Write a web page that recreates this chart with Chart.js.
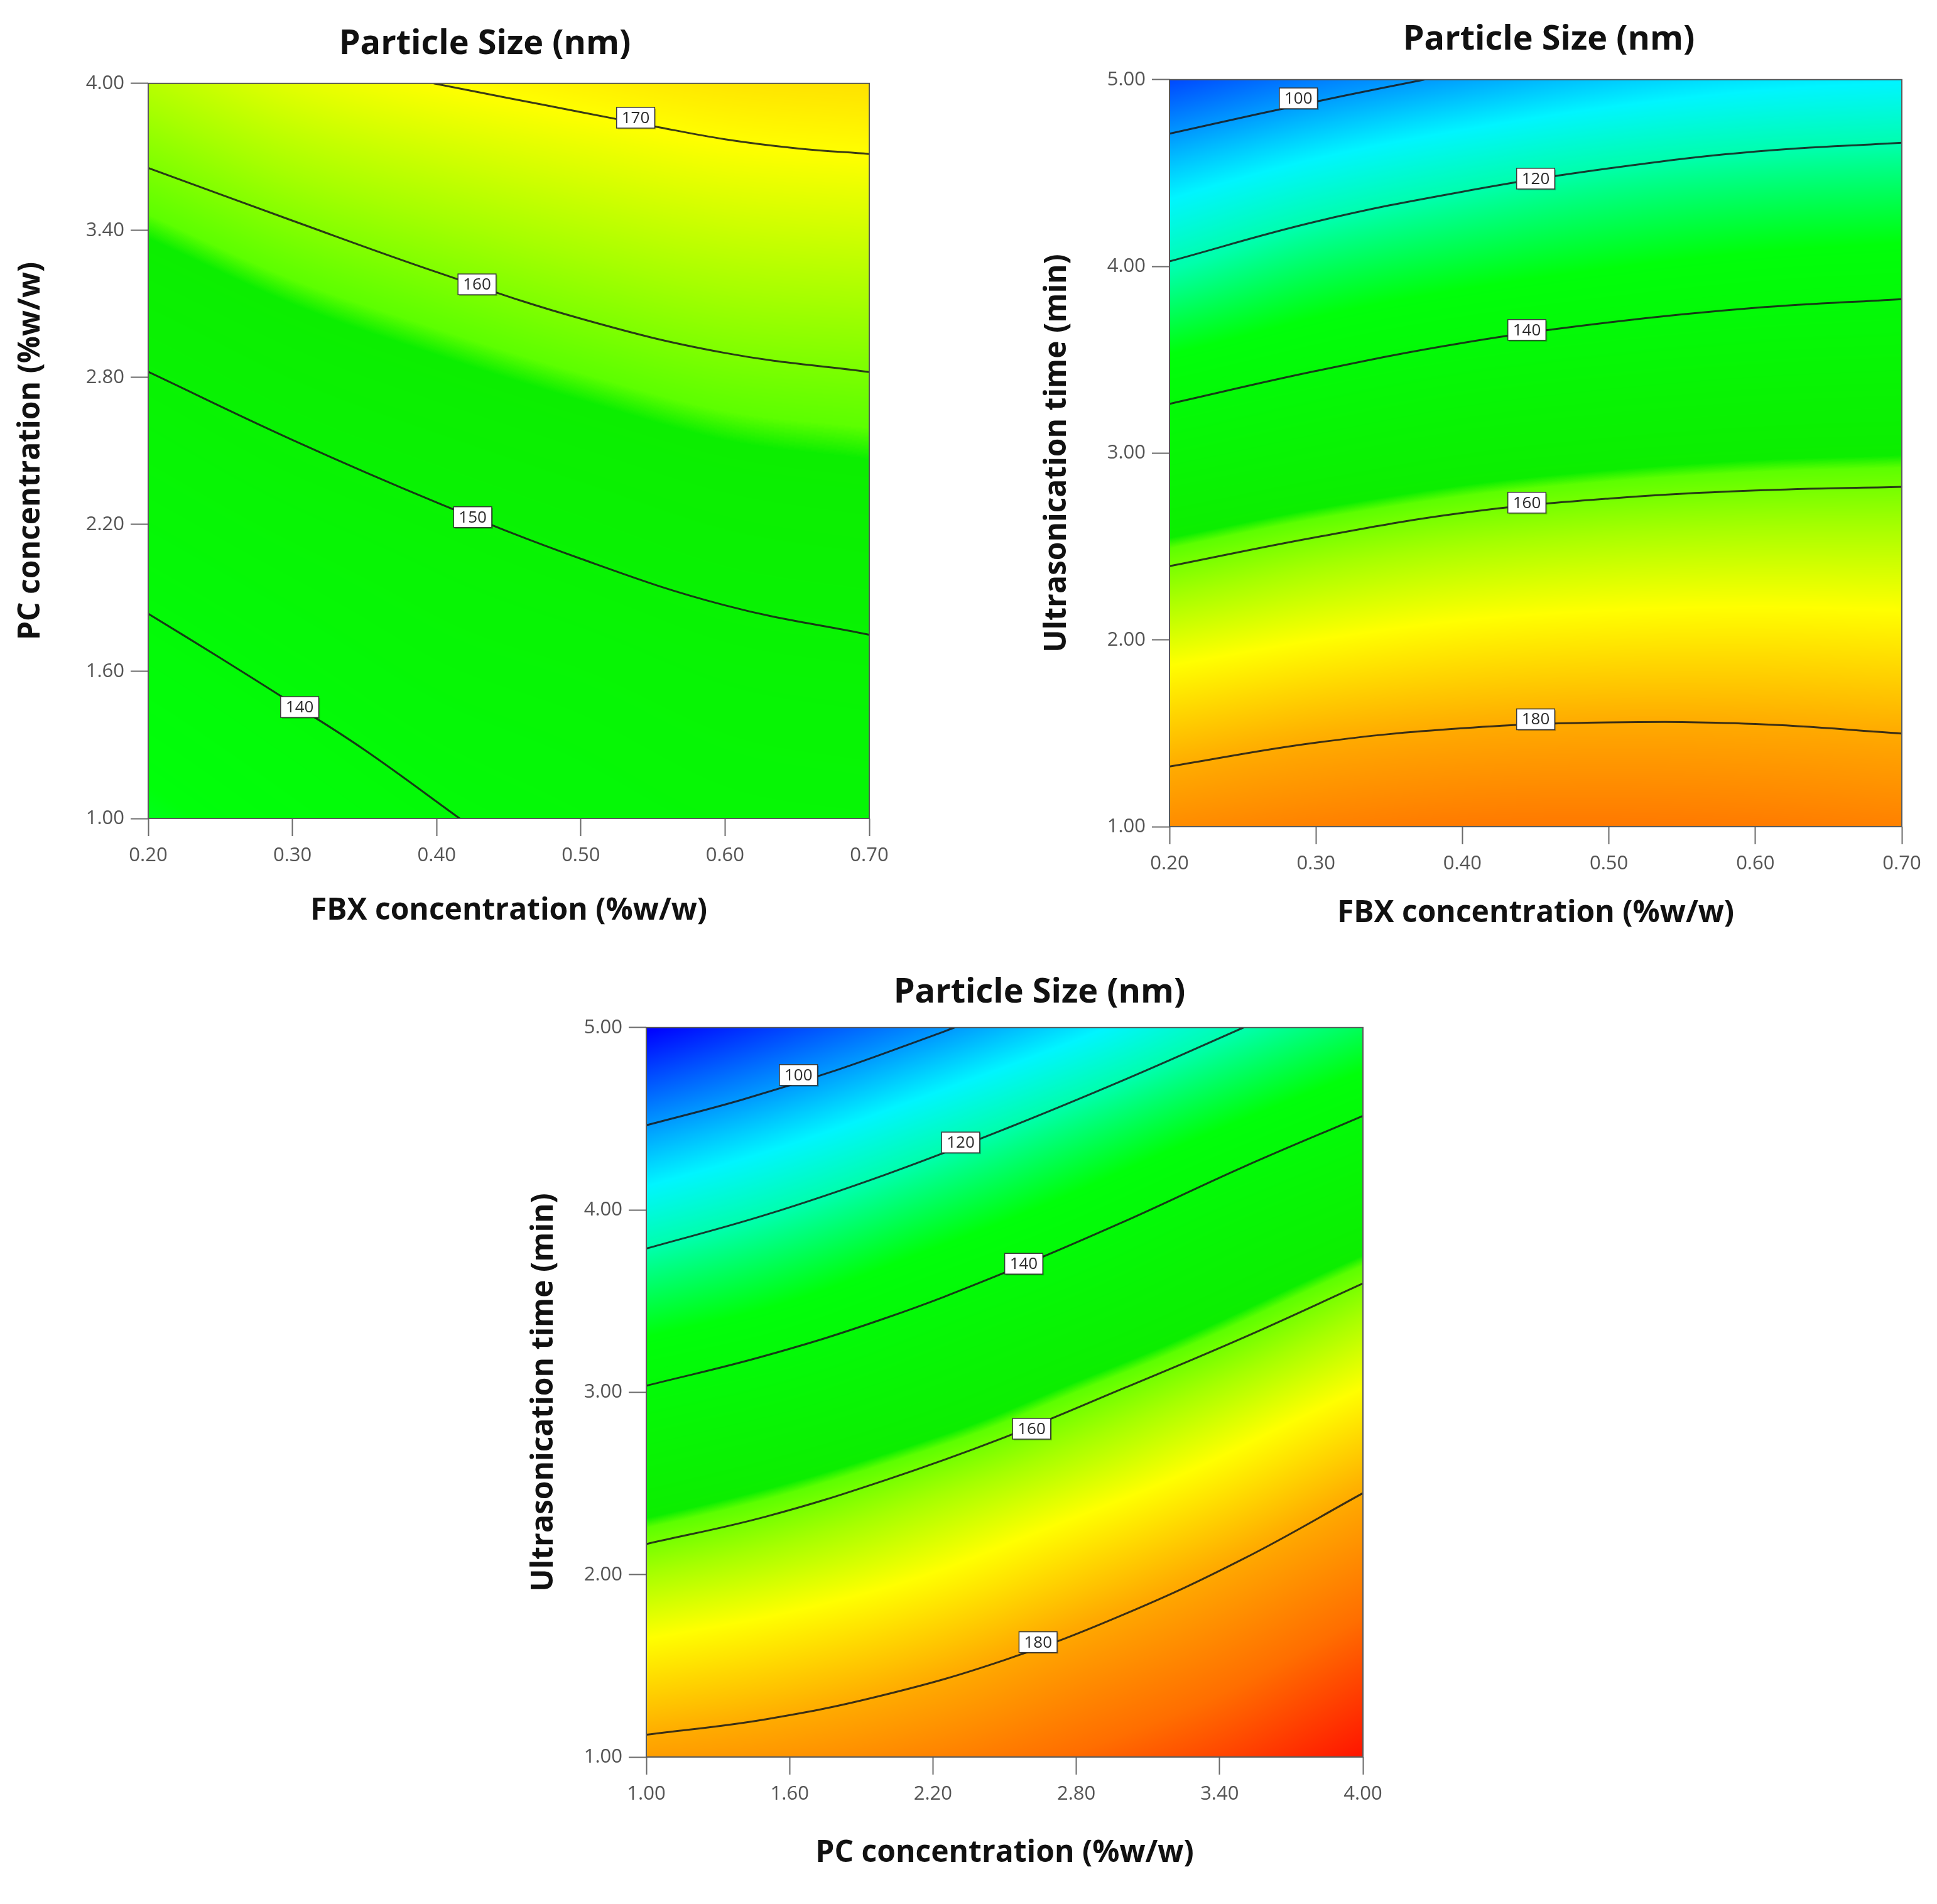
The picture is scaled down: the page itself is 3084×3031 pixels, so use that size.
<!DOCTYPE html>
<html>
<head>
<meta charset="utf-8">
<title>Particle Size contour plots</title>
<script src="https://cdn.jsdelivr.net/npm/chart.js@4.4.1/dist/chart.umd.min.js"></script>
<style>
    html, body { margin: 0; padding: 0; background: #ffffff; overflow: hidden; }
    body { width: 3084px; height: 3031px; position: relative; }
    canvas { position: absolute; }
</style>
</head>
<body>
<canvas id="fbx-pc-chart" width="1544" height="1500" style="left:0px; top:0px;"></canvas>
<canvas id="fbx-time-chart" width="1484" height="1520" style="left:1600px; top:0px;"></canvas>
<canvas id="pc-time-chart" width="1400" height="1531" style="left:820px; top:1500px;"></canvas>
<script>
// AXIS TICKS //

const fbxTicks = [0.20, 0.30, 0.40, 0.50, 0.60, 0.70];
const pcTicks = [1.00, 1.60, 2.20, 2.80, 3.40, 4.00];
const timeTicks = [1.00, 2.00, 3.00, 4.00, 5.00];
const timeRows = [1.0, 1.5, 2.0, 2.5, 3.0, 3.5, 4.0, 4.5, 5.0];

// PARTICLE SIZE (nm), ROWS FROM LOW Y TO HIGH Y //

// columns = fbxTicks, rows = pcTicks
const sizeFbxPc = [
    [131.6, 135.7, 139.4, 141.8, 143.9, 144.6],
    [137.6, 141.2, 144.4, 146.1, 148.0, 148.8],
    [143.7, 146.9, 149.3, 151.4, 153.3, 154.2],
    [149.8, 153.2, 155.6, 157.6, 159.2, 159.8],
    [157.0, 160.2, 162.4, 164.3, 165.8, 166.5],
    [164.4, 167.9, 170.0, 171.5, 172.9, 173.5]
];

// columns = fbxTicks, rows = timeRows
const sizeFbxTime = [
    [185.0, 186.9, 188.1, 188.3, 187.9, 186.9],
    [176.7, 179.1, 180.4, 180.9, 180.7, 180.0],
    [167.4, 170.0, 171.8, 172.6, 172.8, 172.4],
    [157.6, 160.9, 163.1, 164.3, 164.8, 164.8],
    [146.1, 149.9, 153.0, 154.8, 155.9, 156.4],
    [133.8, 138.5, 142.0, 144.2, 145.7, 146.5],
    [119.3, 126.0, 129.9, 132.7, 134.7, 135.8],
    [106.2, 112.2, 116.9, 120.6, 122.7, 123.9],
    [91.2, 97.2, 101.5, 105.4, 108.2, 109.6]
];

// columns = pcTicks, rows = timeRows
const sizePcTime = [
    [182.0, 183.7, 186.5, 190.4, 194.5, 200.0],
    [172.8, 175.2, 178.6, 183.4, 187.9, 193.6],
    [163.2, 166.3, 170.2, 175.4, 180.7, 186.7],
    [152.4, 156.7, 161.7, 166.8, 172.4, 179.1],
    [140.8, 145.2, 151.1, 157.8, 164.0, 170.4],
    [127.7, 132.9, 140.0, 146.9, 154.4, 161.7],
    [113.7, 119.9, 127.5, 135.4, 143.8, 151.2],
    [99.0, 105.9, 114.0, 122.7, 131.5, 139.6],
    [82.7, 90.9, 99.1, 107.9, 118.0, 126.8]
];

// CONTOUR LINES [x, y] //

const fbxPc140 = [[0.20, 1.836], [0.25, 1.655], [0.30, 1.47], [0.35, 1.28], [0.416, 1.00]];
const fbxPc150 = [[0.20, 2.823], [0.30, 2.545], [0.40, 2.29], [0.50, 2.06], [0.60, 1.87], [0.70, 1.75]];
const fbxPc160 = [[0.20, 3.655], [0.30, 3.44], [0.40, 3.23], [0.50, 3.04], [0.60, 2.90], [0.70, 2.822]];
const fbxPc170 = [[0.398, 4.00], [0.45, 3.94], [0.50, 3.883], [0.55, 3.826], [0.60, 3.772], [0.65, 3.735], [0.70, 3.712]];

const fbxTime100 = [[0.20, 4.711], [0.26, 4.815], [0.32, 4.915], [0.374, 5.00]];
const fbxTime120 = [[0.20, 4.027], [0.30, 4.24], [0.40, 4.40], [0.50, 4.525], [0.60, 4.615], [0.70, 4.662]];
const fbxTime140 = [[0.20, 3.264], [0.30, 3.44], [0.40, 3.59], [0.50, 3.70], [0.60, 3.778], [0.70, 3.825]];
const fbxTime160 = [[0.20, 2.395], [0.30, 2.55], [0.40, 2.68], [0.50, 2.757], [0.60, 2.80], [0.70, 2.82]];
const fbxTime180 = [[0.20, 1.322], [0.30, 1.45], [0.40, 1.527], [0.50, 1.558], [0.60, 1.55], [0.70, 1.499]];

const pcTime100 = [[1.00, 4.464], [1.40, 4.604], [1.80, 4.768], [2.20, 4.956], [2.29, 5.00]];
const pcTime120 = [[1.00, 3.788], [1.50, 3.973], [2.00, 4.193], [2.50, 4.443], [3.00, 4.713], [3.50, 5.00]];
const pcTime140 = [[1.00, 3.036], [1.50, 3.201], [2.00, 3.406], [2.50, 3.656], [3.00, 3.936], [3.50, 4.236], [4.00, 4.516]];
const pcTime160 = [[1.00, 2.168], [1.50, 2.318], [2.00, 2.518], [2.50, 2.753], [3.00, 3.023], [3.50, 3.30], [4.00, 3.597]];
const pcTime180 = [[1.00, 1.122], [1.50, 1.207], [2.00, 1.342], [2.50, 1.532], [3.00, 1.782], [3.50, 2.087], [4.00, 2.447]];

// CONTOUR LABELS [x, y, text] //

const fbxPcLabels = [[0.538, 3.86, '170'], [0.428, 3.18, '160'], [0.425, 2.23, '150'], [0.305, 1.455, '140']];
const fbxTimeLabels = [[0.288, 4.90, '100'], [0.45, 4.47, '120'], [0.444, 3.66, '140'], [0.444, 2.735, '160'], [0.45, 1.575, '180']];
const pcTimeLabels = [[1.637, 4.74, '100'], [2.316, 4.37, '120'], [2.58, 3.705, '140'], [2.613, 2.80, '160'], [2.64, 1.63, '180']];

// COLOUR SCALE //

const sizeColours = [
    [83, 0, 0, 255],
    [100, 0, 150, 255],
    [110, 0, 245, 255],
    [120, 0, 255, 170],
    [133, 0, 255, 10],
    [156.6, 12, 238, 0],
    [157.8, 92, 255, 0],
    [163, 165, 255, 0],
    [170, 255, 255, 0],
    [180, 255, 170, 0],
    [190, 255, 110, 0],
    [200, 255, 20, 0]
];

const lutMin = 60, lutStep = 0.05, lutSize = 3400;
const colourLut = new Uint8ClampedArray(lutSize * 3);

for (let i = 0; i < lutSize; i++) {
    const v = lutMin + i * lutStep;
    let k = 0;
    while (k < sizeColours.length - 2 && v > sizeColours[k + 1][0]) k++;
    const a = sizeColours[k], b = sizeColours[k + 1];
    let t = (v - a[0]) / (b[0] - a[0]);
    t = Math.max(0, Math.min(1, t));
    colourLut[i * 3] = a[1] + (b[1] - a[1]) * t;
    colourLut[i * 3 + 1] = a[2] + (b[2] - a[2]) * t;
    colourLut[i * 3 + 2] = a[3] + (b[3] - a[3]) * t;
}

// continuous grid index for a value on an evenly spaced axis
function gridIndex(arr, v) {
    const s = (v - arr[0]) / (arr[1] - arr[0]);
    return Math.max(0, Math.min(arr.length - 1, s));
}

// Catmull-Rom blend of a row of grid values at a continuous index
function smoothAt(row, s) {
    const n = row.length;
    let k = Math.floor(s);
    if (k >= n - 1) k = n - 2;
    const t = s - k;
    const p1 = row[k], p2 = row[k + 1];
    const p0 = k > 0 ? row[k - 1] : 2 * p1 - p2;
    const p3 = k + 2 < n ? row[k + 2] : 2 * p2 - p1;
    return 0.5 * (2 * p1 + (p2 - p0) * t + (2 * p0 - 5 * p1 + 4 * p2 - p3) * t * t + (3 * p1 - p0 - 3 * p2 + p3) * t * t * t);
}

// SURFACE PLUGIN: shades the plot area from the grid through the scales //

function surfacePlugin(grid, xs, ys) {
    return {
        id: 'surface',
        beforeDatasetsDraw(chart) {
            const {ctx, chartArea, scales} = chart;
            const left = Math.round(chartArea.left);
            const top = Math.round(chartArea.top);
            const w = Math.round(chartArea.right) - left;
            const h = Math.round(chartArea.bottom) - top;
            const img = ctx.createImageData(w, h);

            // blend each grid row across the pixel columns first
            const rows = grid.map(row => {
                const out = new Float32Array(w);
                for (let i = 0; i < w; i++) {
                    out[i] = smoothAt(row, gridIndex(xs, scales.x.getValueForPixel(left + i + 0.5)));
                }
                return out;
            });

            const column = new Array(rows.length);
            for (let j = 0; j < h; j++) {
                const s = gridIndex(ys, scales.y.getValueForPixel(top + j + 0.5));
                for (let i = 0; i < w; i++) {
                    for (let r = 0; r < rows.length; r++) column[r] = rows[r][i];
                    const v = smoothAt(column, s);
                    let idx = Math.round((v - lutMin) / lutStep);
                    idx = Math.max(0, Math.min(lutSize - 1, idx));
                    const p = (j * w + i) * 4;
                    img.data[p] = colourLut[idx * 3];
                    img.data[p + 1] = colourLut[idx * 3 + 1];
                    img.data[p + 2] = colourLut[idx * 3 + 2];
                    img.data[p + 3] = 255;
                }
            }
            ctx.putImageData(img, left, top);
        },
        afterDatasetsDraw(chart) {
            const {ctx, chartArea} = chart;
            ctx.save();
            ctx.strokeStyle = '#5a5a5a';
            ctx.lineWidth = 2;
            ctx.strokeRect(chartArea.left, chartArea.top, chartArea.right - chartArea.left, chartArea.bottom - chartArea.top);
            ctx.restore();
        }
    };
}

// CONTOUR LABEL PLUGIN //

function labelPlugin(labels) {
    return {
        id: 'contourLabels',
        afterDatasetsDraw(chart) {
            const {ctx, scales} = chart;
            ctx.save();
            ctx.font = '26px "Open Sans"';
            ctx.textAlign = 'center';
            ctx.textBaseline = 'middle';
            labels.forEach(([x, y, text]) => {
                const px = scales.x.getPixelForValue(x);
                const py = scales.y.getPixelForValue(y);
                const bw = ctx.measureText(text).width + 16;
                const bh = 33;
                ctx.fillStyle = 'rgba(0, 0, 0, 0.25)';
                ctx.fillRect(px - bw / 2 + 2, py - bh / 2 + 2, bw, bh);
                ctx.fillStyle = '#ffffff';
                ctx.fillRect(px - bw / 2, py - bh / 2, bw, bh);
                ctx.strokeStyle = '#3a3a3a';
                ctx.lineWidth = 1.5;
                ctx.strokeRect(px - bw / 2, py - bh / 2, bw, bh);
                ctx.fillStyle = '#2a2a2a';
                ctx.fillText(text, px, py + 1);
            });
            ctx.restore();
        }
    };
}

// TITLE PLACEMENT PLUGIN //

function titleAt(centre) {
    return {
        id: 'titleAt',
        afterLayout(chart) {
            const t = chart.titleBlock;
            if (!t) return;
            const half = (t.right - t.left) / 2;
            t.left = centre - half;
            t.right = centre + half;
        }
    };
}

// SHARED BUILDERS //

function contourSet(points) {
    return {
        data: points.map(p => ({x: p[0], y: p[1]})),
        showLine: true,
        borderColor: 'rgba(25, 25, 25, 0.85)',
        borderWidth: 3,
        pointRadius: 0,
        tension: 0.4,
        fill: false
    };
}

function axis(title, ticks, size, titlePadding, isX) {
    return {
        type: 'linear',
        min: ticks[0],
        max: ticks[ticks.length - 1],
        afterBuildTicks: scale => {
            scale.ticks = ticks.map(v => ({value: v}));
        },
        afterFit: scale => {
            if (isX) {
                scale.height = size;
            } else {
                scale.width = size;
            }
        },
        ticks: {
            autoSkip: false,
            maxRotation: 0,
            padding: isX ? 13 : 10,
            color: '#555555',
            font: {family: 'Open Sans', size: 31},
            callback: value => Number(value).toFixed(2)
        },
        grid: {
            display: true,
            drawOnChartArea: false,
            drawTicks: true,
            tickLength: 28,
            tickWidth: 2,
            tickColor: '#6a6a6a'
        },
        border: {display: false},
        title: {
            display: true,
            text: title,
            color: '#111111',
            font: {family: 'Open Sans', size: 48, weight: '700'},
            padding: titlePadding
        }
    };
}

function chartOptions(xAxis, yAxis, titlePadding, layoutPadding) {
    return {
        responsive: false,
        animation: false,
        devicePixelRatio: 1,
        layout: {padding: layoutPadding},
        scales: {x: xAxis, y: yAxis},
        plugins: {
            legend: {display: false},
            tooltip: {enabled: false},
            title: {
                display: true,
                text: 'Particle Size (nm)',
                color: '#111111',
                font: {family: 'Open Sans', size: 54, weight: '700'},
                padding: titlePadding
            }
        }
    };
}

// FBX vs PC //

const fbxPcChart = new Chart(document.getElementById('fbx-pc-chart'), {
    type: 'scatter',
    data: {
        datasets: [fbxPc140, fbxPc150, fbxPc160, fbxPc170].map(contourSet)
    },
    options: chartOptions(
        axis('FBX concentration (%w/w)', fbxTicks, 197, {top: 0, bottom: 21}, true),
        axis('PC concentration (%w/w)', pcTicks, 236, {top: 21, bottom: 0}, false),
        {top: 38, bottom: 30},
        {left: 0, right: 160, top: 0, bottom: 0}
    ),
    plugins: [surfacePlugin(sizeFbxPc, fbxTicks, pcTicks), labelPlugin(fbxPcLabels), titleAt(772)]
});

// FBX vs ULTRASONICATION TIME //

const fbxTimeChart = new Chart(document.getElementById('fbx-time-chart'), {
    type: 'scatter',
    data: {
        datasets: [fbxTime100, fbxTime120, fbxTime140, fbxTime160, fbxTime180].map(contourSet)
    },
    options: chartOptions(
        axis('FBX concentration (%w/w)', fbxTicks, 204, {top: 0, bottom: 37}, true),
        axis('Ultrasonication time (min)', timeTicks, 262, {top: 55, bottom: 0}, false),
        {top: 31, bottom: 31},
        {left: 0, right: 56, top: 0, bottom: 0}
    ),
    plugins: [surfacePlugin(sizeFbxTime, fbxTicks, timeRows), labelPlugin(fbxTimeLabels), titleAt(866)]
});

// PC vs ULTRASONICATION TIME //

const pcTimeChart = new Chart(document.getElementById('pc-time-chart'), {
    type: 'scatter',
    data: {
        datasets: [pcTime100, pcTime120, pcTime140, pcTime160, pcTime180].map(contourSet)
    },
    options: chartOptions(
        axis('PC concentration (%w/w)', pcTicks, 234, {top: 0, bottom: 52}, true),
        axis('Ultrasonication time (min)', timeTicks, 209, {top: 18, bottom: 0}, false),
        {top: 48, bottom: 23},
        {left: 0, right: 50, top: 0, bottom: 0}
    ),
    plugins: [surfacePlugin(sizePcTime, pcTicks, timeRows), labelPlugin(pcTimeLabels), titleAt(835)]
});
</script>
</body>
</html>
